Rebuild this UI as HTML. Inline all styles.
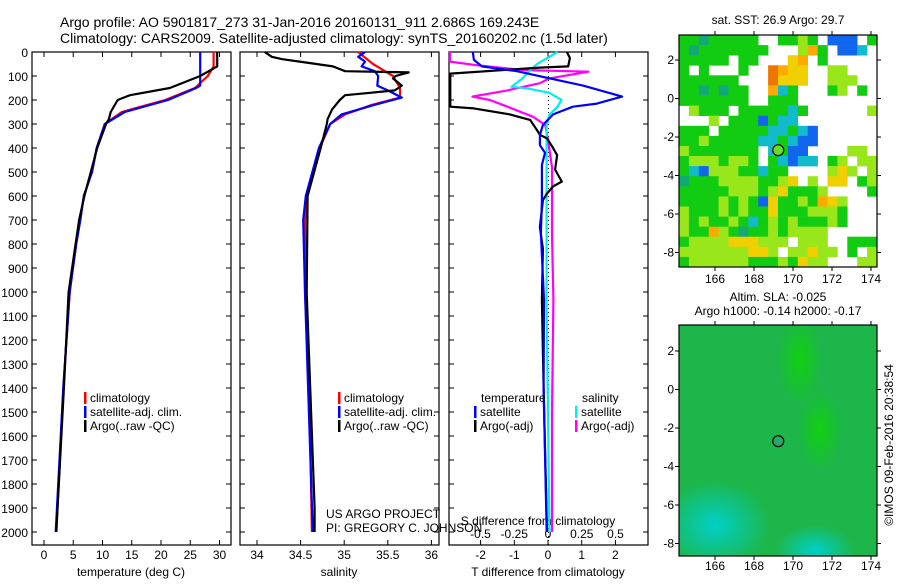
<!DOCTYPE html>
<html><head><meta charset="utf-8">
<style>
body{margin:0;background:#fff;}
svg text{font-family:"Liberation Sans",sans-serif;fill:#000;}
</style></head>
<body>
<svg id="c" width="900" height="580" xmlns="http://www.w3.org/2000/svg">
<text x="60" y="27" font-size="14">Argo profile: AO 5901817_273 31-Jan-2016 20160131_911 2.686S 169.243E</text>
<text x="60" y="43" font-size="14">Climatology: CARS2009. Satellite-adjusted climatology: synTS_20160202.nc (1.5d later)</text>
<g id="plots"></g>
</svg>
<script>
// ---- depth grid / data ----
const tempDepth=[0,60,100,150,200,250,300,400,500,600,700,800,1000,1400,2000];
const tempClim=[29,29,28,25.8,20.7,13.3,10.4,9,8.2,6.8,6.2,5.5,4.4,3.3,2.1];
const tempSatDepth=[0,140,150,200,250,300,400,500,600,700,800,1000,1400,2000];
const tempSat=[26.7,26.7,26,21.2,13.8,10.4,9,8.2,6.8,6.2,5.5,4.4,3.3,2.0];
const tempArgoDepth=[0,60,100,150,180,200,250,280,300,400,500,600,700,800,1000,1400,2000];
const tempArgo=[29.6,29.6,26.7,21.5,14.7,12.6,11.4,11.1,10.6,9.1,8.0,6.9,6.0,5.4,4.2,3.4,2.1];

const salClimDepth=[0,50,100,150,190,220,260,300,400,500,600,700,1000,1400,2000];
const salClim=[35.16,35.33,35.56,35.64,35.64,35.32,35.01,34.84,34.72,34.64,34.57,34.55,34.55,34.60,34.63];
const salSatDepth=[0,20,40,60,80,100,140,160,190,220,260,300,400,600,700,1000,2000];
const salSat=[35.24,35.16,35.24,35.2,35.35,35.39,35.38,35.5,35.66,35.35,34.97,34.84,34.71,34.56,34.53,34.55,34.64];
const salArgoDepth=[0,20,30,40,60,80,85,100,110,140,160,170,180,200,240,280,300,400,600,1000,1900,2000];
const salArgo=[34.09,34.17,34.29,34.49,34.87,35.01,35.74,35.59,35.56,35.66,35.58,35.3,35.01,34.95,34.86,34.81,34.8,34.73,34.58,34.57,34.66,34.66];

const dTSatDepth=[0,33,60,80,110,140,186,215,228,260,304,346,388,420,471,617,756,1033,1400,2000];
const dTSat=[-2.23,-2.2,-1.96,-0.92,0.06,1.04,2.2,1.45,0.74,0.15,-0.15,-0.24,-0.24,-0.09,-0.18,-0.18,-0.21,-0.12,-0.13,-0.04];
const dTArgoDepth=[0,25,60,65,90,228,235,260,283,325,345,360,400,430,490,540,560,590,617,730,820,1030,1400,2000];
const dTArgo=[0.56,0.65,0.6,-0.24,-2.9,-2.9,-2.2,-1.13,-0.53,-0.33,-0.24,-0.03,0.15,0.27,0.21,0.41,0.15,-0.03,-0.15,-0.24,-0.15,-0.18,-0.13,-0.03];
const dSSatDepth=[0,20,50,75,110,145,151,170,200,228,262,310,500,760,1033,1500,2000];
const dSSat=[0.07,0.01,-0.08,-0.13,-0.19,-0.27,-0.16,0.01,0.1,0.07,0.01,-0.01,-0.01,-0.01,-0.01,0.0,0.01];
const dSArgoDepth=[0,40,55,75,82,110,130,160,186,200,228,270,304,367,480,760,1033,1500,2000];
const dSArgo=[-0.73,-0.73,-0.53,-0.19,0.3,0.01,-0.06,-0.3,-0.56,-0.43,-0.3,-0.11,-0.02,0.0,0.03,0.03,0.04,0.03,0.03];

const depthTicks=[0,100,200,300,400,500,600,700,800,900,1000,1100,1200,1300,1400,1500,1600,1700,1800,1900,2000];
const tempTicks=[0,5,10,15,20,25,30];
const salTicks=[34,34.5,35,35.5,36];
const salTickLabels=["34","34.5","35","35.5","36"];
const dTTicks=[-2,-1,0,1,2];
const dSTicks=[-0.5,-0.25,0,0.25,0.5];
const dSTickLabels=["-0.5","-0.25","0","0.25","0.5"];

// map grid: w white g green l lime y yellow o orange c cyan b blue t teal d dark-orange
const sstRows=[
"ggtgggggwwgglgwbbbwg",
"gtgggggggwwwlogwbbcw",
"gggggwggwwwyowgwwwww",
"gwgwwwgwwdoyywwllwww",
"ggggggwwwdyyywwlllww",
"ggtgtggwwocgwwwglwgw",
"gggggggwwgggwwwwwwww",
"wlgggwgggggcgwwwwwwl",
"wwwlwgggbgccwwwwwwww",
"gggwgggggccgcbwwwwww",
"gglgggggccgcbbwwwwww",
"lgggggggwcgbbwwwwllw",
"glllgllgwgcbccwglwll",
"gcblllggcggwwwwlylwl",
"tgggllllgglywlwyywgl",
"ggggglllglyggglwwwwg",
"gggglglgbygglgoylwww",
"lggglglggyggglllgwww",
"lglgglgcglglggglgwww",
"lggolgtgglgllllwwwww",
"gllllyyylllwlllwwggg",
"lllllllyylwllyllwgwl",
"gllllllggglgyllwwwll"];
const mapLonTicks=[166,168,170,172,174];
const mapLatTicks=[2,0,-2,-4,-6,-8];
const argoLon=169.243, argoLat=-2.686;

const NS="http://www.w3.org/2000/svg";
const G=document.getElementById('plots');
function el(tag,attrs,parent){const e=document.createElementNS(NS,tag);for(const k in attrs)e.setAttribute(k,attrs[k]);(parent||G).appendChild(e);return e;}
function txt(x,y,s,size,anchor,parent){const t=el('text',{x:x,y:y,'font-size':size||12,'text-anchor':anchor||'start'},parent);t.textContent=s;return t;}

const Y0=52, PXD=0.24, BOT=545;
const yD=d=>Y0+d*PXD;
const xT=v=>44+5.85*v;
const xS=v=>257+87.2*(v-34);
const xdT=v=>548+33.7*v;
const xdS=v=>548+135*v;

function panel(x0,name){
  const r=el('rect',{x:x0,y:Y0,width:199,height:BOT-Y0,fill:'none',stroke:'#000','stroke-width':1.2});
  
  
  depthTicks.forEach(d=>{
    const t=el('line',{x1:x0,x2:x0+5,y1:yD(d),y2:yD(d),stroke:'#000'});
    
    
    const t2=el('line',{x1:x0+199,x2:x0+194,y1:yD(d),y2:yD(d),stroke:'#000'});
    
    
  });
}
function line(depths,vals,xf,color,name,clip){
  const pts=depths.map((d,i)=>{let x=xf(vals[i]);if(clip){x=Math.max(clip[0],Math.min(clip[1],x));}return x.toFixed(1)+','+yD(d).toFixed(1);}).join(' ');
  const p=el('polyline',{points:pts,fill:'none',stroke:color,'stroke-width':2.2,'stroke-linejoin':'round'});
  
  
}
function xticks(ticks,labels,xf,yb,name){
  ticks.forEach((v,i)=>{
    const x=xf(v);
    const a=el('line',{x1:x,x2:x,y1:BOT,y2:BOT-5,stroke:'#000'});
    
    
    const b=el('line',{x1:x,x2:x,y1:Y0,y2:Y0+5,stroke:'#000'});
    
    
    const t=txt(x,yb,labels[i],12,'middle');
    
    
  });
}
function legend(x,y,color,label){
  const b=el('rect',{x:x,y:y-10,width:2.5,height:12,fill:color});
  
  
  const t=txt(x+6,y,label,12);
  
  
}

depthTicks.forEach(d=>{const t=txt(28,yD(d)+5,String(d),12,'end');});

// Panel 1 temperature
panel(32,'temperature-panel');
xticks(tempTicks,tempTicks.map(String),xT,559,'temperature-axis');
line(tempDepth,tempClim,xT,'#f00','temperature-climatology-line');
line(tempSatDepth,tempSat,xT,'#00f','temperature-satellite-line');
line(tempArgoDepth,tempArgo,xT,'#000','temperature-argo-line');
let t=txt(131,576,'temperature (deg C)',12,'middle');
legend(84,402,'#f00','climatology');legend(84,416,'#00f','satellite-adj. clim.');legend(84,430,'#000','Argo(..raw -QC)');

// Panel 2 salinity
panel(240,'salinity-panel');
xticks(salTicks,salTickLabels,xS,559,'salinity-axis');
line(salClimDepth,salClim,xS,'#f00','salinity-climatology-line');
line(salSatDepth,salSat,xS,'#00f','salinity-satellite-line');
line(salArgoDepth,salArgo,xS,'#000','salinity-argo-line');
t=txt(339,576,'salinity',12,'middle');
legend(338,402,'#f00','climatology');legend(338,416,'#00f','satellite-adj. clim.');legend(338,430,'#000','Argo(..raw -QC)');
t=txt(326,518,'US ARGO PROJECT',12);
t=txt(326,532,'PI: GREGORY C. JOHNSON',12);

// Panel 3 differences
panel(449,'difference-panel');
const zl=el('line',{x1:548.5,x2:548.5,y1:Y0,y2:BOT,stroke:'#000','stroke-dasharray':'1,3'});

xticks(dTTicks,dTTicks.map(String),xdT,559,'t-difference-axis');
dSTicks.forEach((v,i)=>{const tt=txt(xdS(v),538,dSTickLabels[i],12,'middle');});
t=txt(538,525,'S difference from climatology',12,'middle');
t=txt(548,576,'T difference from climatology',12,'middle');
const clip=[450,647];
line(dSArgoDepth,dSArgo,xdS,'#f0f','s-difference-argo-line',clip);
line(dSSatDepth,dSSat,xdS,'#0ee','s-difference-satellite-line',clip);
line(dTArgoDepth,dTArgo,xdT,'#000','t-difference-argo-line',clip);
line(dTSatDepth,dTSat,xdT,'#00f','t-difference-satellite-line',clip);
t=txt(481,402,'temperature',12);
t=txt(582,402,'salinity',12);
legend(474,416,'#00f','satellite');legend(474,430,'#000','Argo(-adj)');
legend(575,416,'#0ee','satellite');legend(575,430,'#f0f','Argo(-adj)');

// Maps
const MX0=679,MX1=877;
const lonX=l=>715+19.5*(l-166);
function mapAxes(yTop,yBot,lat2y,name,labelY){
  const latY=l=>lat2y+19.25*(2-l);
  const r=el('rect',{x:MX0,y:yTop,width:MX1-MX0,height:yBot-yTop,fill:'none',stroke:'#000','stroke-width':1.2});
  
  mapLonTicks.forEach(l=>{
    const a=el('line',{x1:lonX(l),x2:lonX(l),y1:yBot,y2:yBot+4,stroke:'#000'});
    const b=el('line',{x1:lonX(l),x2:lonX(l),y1:yTop,y2:yTop-4,stroke:'#000'});
    const tt=txt(lonX(l),labelY,String(l),12,'middle');
  });
  mapLatTicks.forEach(l=>{
    const a=el('line',{x1:MX0,x2:MX0-4,y1:latY(l),y2:latY(l),stroke:'#000'});
    const b=el('line',{x1:MX1,x2:MX1+4,y1:latY(l),y2:latY(l),stroke:'#000'});
    const tt=txt(674,latY(l)+4,String(l),12,'end');
  });
  const c=el('circle',{cx:lonX(argoLon),cy:latY(argoLat),r:5.5,fill:name==='sst-map'?'#66dd22':'#22aa66',stroke:'#000','stroke-width':1.2});
  
}
const colors={g:'#11cc11',l:'#99e61a',y:'#f0d000',o:'#ffaa00',d:'#ee7700',c:'#11bbcc',b:'#1166ee',t:'#11aa77'};
const MY0=35,MY1=267;
const cw=(MX1-MX0)/20, ch=(MY1-MY0)/sstRows.length;
sstRows.forEach((row,ri)=>{
  for(let ci=0;ci<row.length;ci++){
    const k=row[ci]; if(k==='w') continue;
    const r=el('rect',{x:(MX0+ci*cw).toFixed(1),y:(MY0+ri*ch).toFixed(1),width:(cw+0.3).toFixed(1),height:(ch+0.3).toFixed(1),fill:colors[k]});
    
    
  }
});
t=txt(778,24,'sat. SST: 26.9 Argo: 29.7',12,'middle');
mapAxes(MY0,MY1,60,'sst-map',283);

// SLA map background (clipped)
const defs=el('defs',{});
const cp=el('clipPath',{id:'slaclip'},defs);
el('rect',{x:MX0,y:325,width:MX1-MX0,height:231},cp);
const rg=el('radialGradient',{id:'cy',cx:'0.5',cy:'0.5',r:'0.5'},defs);
el('stop',{offset:'0','stop-color':'#00d0c8'},rg);el('stop',{offset:'1','stop-color':'#00d0c8','stop-opacity':'0'},rg);
const rg2=el('radialGradient',{id:'lg',cx:'0.5',cy:'0.5',r:'0.5'},defs);
el('stop',{offset:'0','stop-color':'#11d011'},rg2);el('stop',{offset:'1','stop-color':'#11d011','stop-opacity':'0'},rg2);
const sg=el('g',{'clip-path':'url(#slaclip)'});

const bg=el('rect',{x:MX0,y:325,width:MX1-MX0,height:231,fill:'#1db64a'},sg);
el('ellipse',{cx:715,cy:525,rx:55,ry:45,fill:'url(#cy)'},sg);
el('ellipse',{cx:815,cy:550,rx:40,ry:25,fill:'url(#cy)'},sg);
el('ellipse',{cx:800,cy:360,rx:22,ry:45,fill:'url(#lg)'},sg);
el('ellipse',{cx:820,cy:430,rx:22,ry:40,fill:'url(#lg)'},sg);
t=txt(778,301,'Altim. SLA: -0.025',12,'middle');
t=txt(778,315,'Argo h1000: -0.14 h2000: -0.17',12,'middle');
mapAxes(325,556,351,'sla-map',570);

t=txt(0,0,'©IMOS 09-Feb-2016 20:38:54',12,'middle');t.setAttribute('transform','translate(893,445) rotate(-90)');
</script>
</body></html>
